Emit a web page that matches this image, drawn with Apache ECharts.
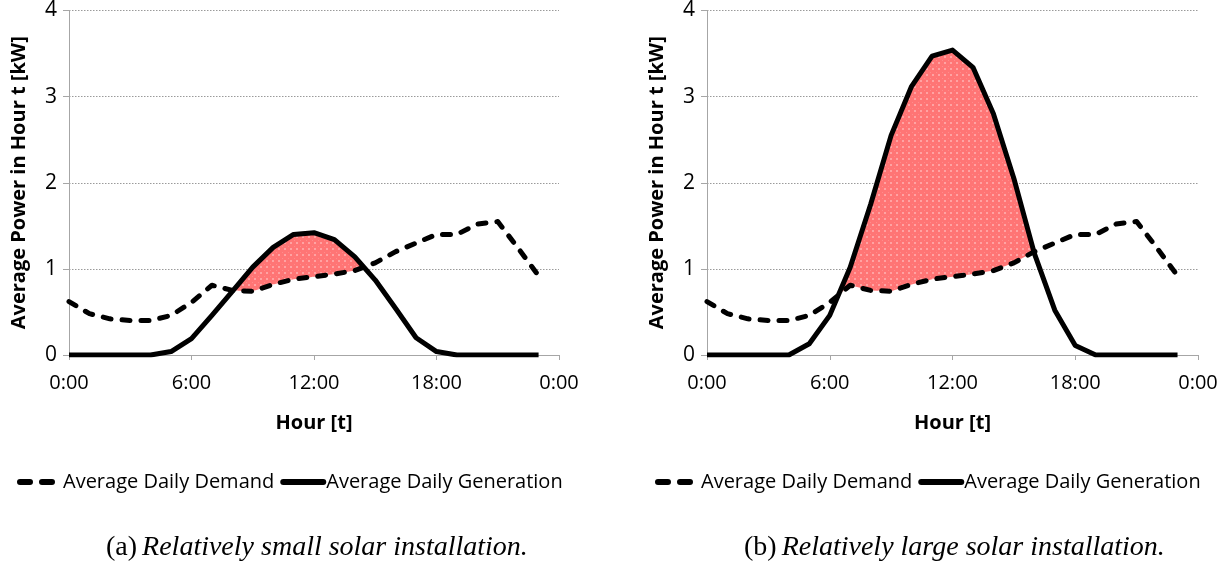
<!DOCTYPE html>
<html>
<head>
<meta charset="utf-8">
<script src="https://cdn.jsdelivr.net/npm/echarts@6/dist/echarts.min.js"></script>
<style>
  html, body { margin: 0; padding: 0; background: #fff; }
  #chart { width: 1228px; height: 567px; }
</style>
</head>
<body>
<div id="chart"></div>
<script>
  // hourly values, hour 0..23
  var hours = [0,1,2,3,4,5,6,7,8,9,10,11,12,13,14,15,16,17,18,19,20,21,22,23];
  var demand = [0.62,0.48,0.42,0.40,0.40,0.46,0.61,0.81,0.75,0.74,0.82,0.88,0.91,0.94,0.98,1.07,1.20,1.30,1.40,1.40,1.52,1.55,1.24,0.92];
  var genSmall = [0,0,0,0,0,0.04,0.19,0.46,0.74,1.02,1.25,1.40,1.42,1.34,1.14,0.87,0.54,0.20,0.04,0,0,0,0,0];
  var genLarge = [0,0,0,0,0,0.13,0.46,1.02,1.75,2.55,3.12,3.47,3.54,3.34,2.80,2.05,1.18,0.52,0.11,0,0,0,0,0];
  var xTicks = [0, 6, 12, 18, 24];
  var captions = ['Relatively small solar installation.', 'Relatively large solar installation.'];

  function pairs(vals) {
    return hours.map(function (h, i) { return [h, vals[i]]; });
  }

  // halftone-like pink fill
  var tile = document.createElement('canvas');
  tile.width = 6; tile.height = 6;
  var tc = tile.getContext('2d');
  tc.fillStyle = '#ff7575';
  tc.fillRect(0, 0, 6, 6);
  tc.fillStyle = '#ffa3a3';
  tc.fillRect(2, 2, 2, 2);
  tc.fillStyle = '#ff8c8c';
  tc.fillRect(0, 0, 1, 1);
  var pinkFill = { image: tile, repeat: 'repeat' };

  // area where generation is above demand
  function surplusRender(gen) {
    return function (params, api) {
      var polys = [];
      var up = null, low = null;
      for (var i = 0; i < hours.length; i++) {
        var d0 = gen[i] - demand[i];
        if (d0 > 0) {
          if (!up) { up = []; low = []; }
          up.push(api.coord([hours[i], gen[i]]));
          low.push(api.coord([hours[i], demand[i]]));
        }
        if (i < hours.length - 1) {
          var d1 = gen[i + 1] - demand[i + 1];
          if ((d0 > 0) !== (d1 > 0)) {
            var t = d0 / (d0 - d1);
            var cx = hours[i] + t * (hours[i + 1] - hours[i]);
            var cy = gen[i] + t * (gen[i + 1] - gen[i]);
            var p = api.coord([cx, cy]);
            if (d0 > 0) {
              up.push(p);
              polys.push(up.concat(low.reverse()));
              up = null; low = null;
            } else {
              up = [p]; low = [];
            }
          }
        }
      }
      if (up) polys.push(up.concat(low.reverse()));
      return {
        type: 'group',
        children: polys.map(function (pts) {
          return { type: 'polygon', shape: { points: pts }, style: { fill: pinkFill } };
        })
      };
    };
  }

  var font = 'Open Sans';
  var grids = [
    { left: 69, top: 9, width: 490, height: 346 },
    { left: 707, top: 9, width: 491, height: 346 }
  ];

  function xAxis(idx) {
    return {
      type: 'value', gridIndex: idx, min: 0, max: 24, interval: 6,
      name: 'Hour [t]', nameLocation: 'middle', nameGap: 58,
      nameTextStyle: { fontFamily: font, fontWeight: 'bold', fontSize: 20, color: '#000' },
      axisLine: { lineStyle: { color: '#a6a6a6', width: 1 } },
      axisTick: { show: true, length: 5, lineStyle: { color: '#a6a6a6' }, customValues: xTicks },
      axisLabel: {
        fontFamily: font, fontSize: 20, color: '#000', margin: 18,
        customValues: xTicks,
        formatter: function (v) { return (v % 24) + ':00'; }
      },
      splitLine: { show: false }
    };
  }
  function yAxis(idx) {
    return {
      type: 'value', gridIndex: idx, min: 0, max: 4, interval: 1,
      name: 'Average Power in Hour t [kW]', nameLocation: 'middle', nameGap: 40,
      nameTextStyle: { fontFamily: font, fontWeight: 'bold', fontSize: 20, color: '#000' },
      axisLine: { show: true, lineStyle: { color: '#a6a6a6', width: 1 } },
      axisTick: { show: true, length: 6, lineStyle: { color: '#a6a6a6' } },
      axisLabel: { fontFamily: font, fontSize: 21, color: '#000', margin: 12 },
      splitLine: { show: true, lineStyle: { color: '#9a9a9a', type: [1.5, 1.5], width: 1 } }
    };
  }

  function seriesFor(idx, gen) {
    return [
      {
        type: 'custom', xAxisIndex: idx, yAxisIndex: idx, z: 1,
        data: [[0, 0]], renderItem: surplusRender(gen), silent: true
      },
      {
        name: 'Average Daily Demand', type: 'line', xAxisIndex: idx, yAxisIndex: idx,
        data: pairs(demand), showSymbol: false, symbol: 'none', z: 3,
        itemStyle: { color: '#000' },
        lineStyle: { color: '#000', width: 5, type: [8, 11], cap: 'round', join: 'round' }
      },
      {
        name: 'Average Daily Generation', type: 'line', xAxisIndex: idx, yAxisIndex: idx,
        data: pairs(gen), showSymbol: false, symbol: 'none', z: 4,
        itemStyle: { color: '#000' },
        lineStyle: { color: '#000', width: 5, cap: 'butt', join: 'round' }
      }
    ];
  }

  function legend(left) {
    return {
      left: left, top: 467, itemWidth: 40, itemHeight: 14, itemGap: 6,
      itemStyle: { opacity: 0 },
      lineStyle: { width: 6, color: '#000' },
      textStyle: { fontFamily: font, fontSize: 20, color: '#000', padding: [0, 0, 0, -2] },
      data: [
        { name: 'Average Daily Demand', lineStyle: { width: 6, color: '#000', type: [10, 12], cap: 'round' } },
        { name: 'Average Daily Generation', lineStyle: { width: 6, color: '#000', cap: 'round' } }
      ]
    };
  }

  function caption(left, tag, text) {
    return {
      left: left, top: 529,
      text: '{a|(' + tag + ')} {b|' + text + '}',
      textStyle: {
        fontWeight: 'normal',
        rich: {
          a: { fontFamily: 'Liberation Serif', fontWeight: 'normal', fontSize: 28, color: '#000' },
          b: { fontFamily: 'Liberation Serif', fontWeight: 'normal', fontStyle: 'italic', fontSize: 28, color: '#000' }
        }
      }
    };
  }

  var chart = echarts.init(document.getElementById('chart'), null, { renderer: 'canvas' });
  chart.setOption({
    backgroundColor: '#fff',
    animation: false,
    title: [caption(101, 'a', captions[0]), caption(739, 'b', captions[1])],
    legend: [legend(12), legend(650)],
    grid: grids,
    xAxis: [xAxis(0), xAxis(1)],
    yAxis: [yAxis(0), yAxis(1)],
    series: seriesFor(0, genSmall).concat(seriesFor(1, genLarge))
  });
</script>
</body>
</html>
